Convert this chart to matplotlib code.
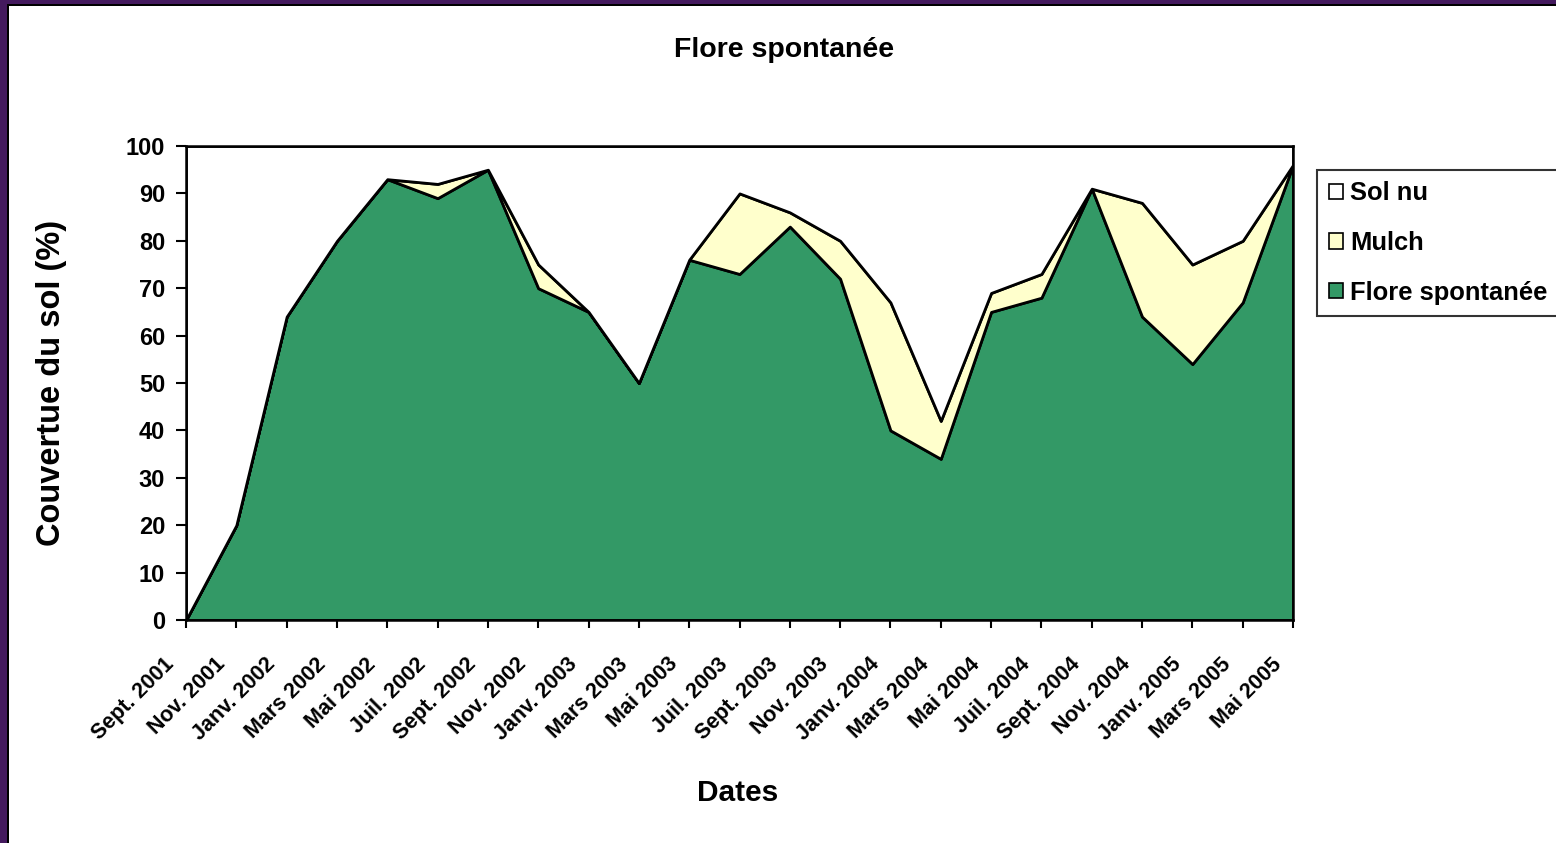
import numpy as np
import matplotlib
matplotlib.use("Agg")
import matplotlib.pyplot as plt
import matplotlib.transforms as mtransforms
from matplotlib.patches import Rectangle

plt.rcParams['font.family'] = ['Liberation Sans', 'DejaVu Sans']
plt.rcParams['font.weight'] = 'bold'

# Données (% de couverture du sol)
dates = ["Sept. 2001", "Nov. 2001", "Janv. 2002", "Mars 2002", "Mai 2002",
         "Juil. 2002", "Sept. 2002", "Nov. 2002", "Janv. 2003", "Mars 2003",
         "Mai 2003", "Juil. 2003", "Sept. 2003", "Nov. 2003", "Janv. 2004",
         "Mars 2004", "Mai 2004", "Juil. 2004", "Sept. 2004", "Nov. 2004",
         "Janv. 2005", "Mars 2005", "Mai 2005"]
flore = [0, 20, 64, 80, 93, 89, 95, 70, 65, 50, 76, 73, 83, 72, 40, 34,
         65, 68, 91, 64, 54, 67, 96]
mulch = [0, 0, 0, 0, 0, 3, 0, 5, 0, 0, 0, 17, 3, 8, 27, 8,
         4, 5, 0, 24, 21, 13, 0]
sol_nu = [100, 80, 36, 20, 7, 8, 5, 25, 35, 50, 24, 10, 14, 20, 33, 58,
          31, 27, 9, 12, 25, 20, 4]

x = np.arange(len(dates))

W, H = 1556, 843
fig = plt.figure(figsize=(W / 100, H / 100), dpi=100)
ax = fig.add_axes([186 / W, 1 - 620 / H, (1293 - 186) / W, (620 - 146) / H])

ax.stackplot(x, flore, mulch, sol_nu,
             colors=["#339966", "#FFFFCC", "#FFFFFF"],
             labels=["Flore spontanée", "Mulch", "Sol nu"],
             edgecolor="black", linewidth=2)

ax.set_xlim(0, len(dates) - 1)
ax.set_ylim(0, 100)
ax.set_yticks(range(0, 101, 10))
ax.set_xticks(x)
ax.set_xticklabels(dates, rotation=45, ha="right", rotation_mode="anchor",
                   fontsize=15.5, fontweight="bold")
ax.tick_params(axis="y", labelsize=17, direction="out", length=7, width=1.5, pad=8)
ax.tick_params(axis="x", direction="out", length=6, width=1.5, pad=6)
shift = mtransforms.ScaledTranslation(-22 / 100, -17 / 100, fig.dpi_scale_trans)
for lab in ax.get_xticklabels():
    lab.set_transform(lab.get_transform() + shift)
for s in ax.spines.values():
    s.set_linewidth(1.8)
    s.set_color("black")

fig.text(52 / W, 1 - 383 / H, "Couvertue du sol (%)", fontsize=23.5,
         fontweight="bold", rotation=90, ha="center", va="center")
fig.text(738 / W, 1 - 793 / H, "Dates", fontsize=21.5,
         fontweight="bold", ha="center", va="center")
fig.text(784 / W, 1 - 50 / H, "Flore spontanée", fontsize=20.5,
         fontweight="bold", ha="center", va="center")

handles, labels = ax.get_legend_handles_labels()
leg = fig.legend(handles[::-1], labels[::-1], loc="upper left",
                 bbox_to_anchor=(1317 / W, 1 - 170 / H),
                 fontsize=18.4, frameon=True, fancybox=False,
                 handlelength=0.55, handleheight=0.55, handletextpad=0.3,
                 labelspacing=1.0, borderpad=0.45, borderaxespad=0)
leg.get_frame().set_edgecolor("black")
leg.get_frame().set_linewidth(1.5)
for h in leg.legend_handles:
    h.set_linewidth(1.2)

# cadre violet du document
fig.patches.append(Rectangle((0, 0), 7 / W, 1, transform=fig.transFigure,
                             facecolor="#441A5E", edgecolor="none", zorder=10))
fig.patches.append(Rectangle((0, 1 - 4 / H), 1, 4 / H, transform=fig.transFigure,
                             facecolor="#441A5E", edgecolor="none", zorder=10))
fig.patches.append(Rectangle((7 / W, 0), 2 / W, 1 - 4 / H, transform=fig.transFigure,
                             facecolor="black", edgecolor="none", zorder=10))
fig.patches.append(Rectangle((7 / W, 1 - 6 / H), 1, 2 / H, transform=fig.transFigure,
                             facecolor="black", edgecolor="none", zorder=10))

fig.savefig("out.png", dpi=100)
